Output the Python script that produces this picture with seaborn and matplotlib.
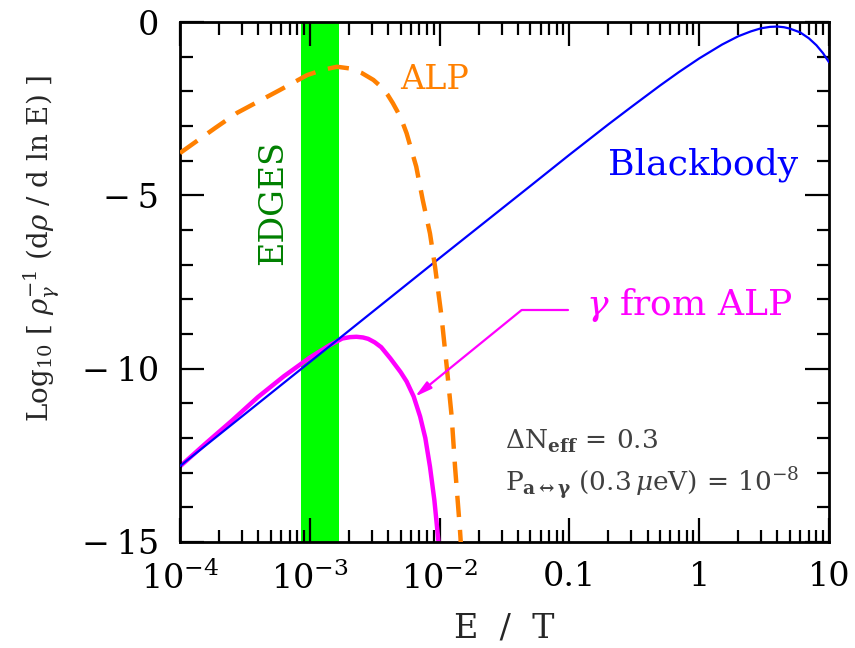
import numpy as np
import matplotlib
matplotlib.use("Agg")
import matplotlib.pyplot as plt
from matplotlib.ticker import MultipleLocator, LogLocator, NullFormatter
import seaborn as sns

# values (log10 E/T, log10 spectrum)
bb_E = [1e-4, 1e-3, 1e-2, 0.05, 0.1, 0.2, 0.3, 0.5, 0.7, 1.0, 1.5, 2.0, 2.5,
        3.0, 3.5, 4.0, 4.5, 5.0, 6.0, 7.0, 8.0, 9.0, 10.0]
bb_y = [-12.81, -9.81, -6.81, -4.73, -3.83, -2.95, -2.45, -1.83, -1.44, -1.05,
        -0.65, -0.41, -0.27, -0.18, -0.14, -0.13, -0.15, -0.19, -0.30, -0.47,
        -0.67, -0.90, -1.16]

alp_logE = [-4.0, -3.73, -3.56, -3.23, -3.02, -2.90, -2.79, -2.69, -2.60, -2.51,
            -2.45, -2.40, -2.36, -2.30, -2.254, -2.18, -2.13, -2.074, -2.035,
            -1.985, -1.945, -1.907, -1.881, -1.843, -1.83]
alp_y = [-3.78, -3.06, -2.62, -1.96, -1.53, -1.38, -1.29, -1.34, -1.47, -1.67,
         -1.87, -2.10, -2.34, -2.75, -3.21, -4.17, -5.13, -6.10, -7.06, -8.50,
         -9.94, -11.38, -12.83, -14.65, -15.4]

gam_logE = [-4.0, -3.8, -3.6, -3.4, -3.2, -3.0, -2.85, -2.75, -2.69, -2.64,
            -2.59, -2.55, -2.50, -2.45, -2.38, -2.30, -2.254, -2.20, -2.15,
            -2.11, -2.074, -2.04, -2.01, -2.0]
gam_y = [-12.82, -12.15, -11.5, -10.82, -10.22, -9.68, -9.33, -9.13, -9.09,
         -9.08, -9.10, -9.14, -9.24, -9.38, -9.70, -10.10, -10.37, -10.80,
         -11.38, -12.0, -12.83, -13.8, -14.94, -15.4]

edges_band = [8.55e-4, 1.68e-3]

x_ticks = [1e-4, 1e-3, 1e-2, 0.1, 1, 10]
x_labels = ["$10^{-4}$", "$10^{-3}$", "$10^{-2}$", "0.1", "1", "10"]
y_ticks = [-15, -10, -5, 0]
y_labels = ["\u2212\u200915", "\u2212\u200910", "\u2212\u20095", "0"]

sns.set_style("ticks")
plt.rcParams['font.family'] = ['DejaVu Serif']
plt.rcParams['mathtext.fontset'] = 'dejavuserif'

fig = plt.figure(figsize=(8.55, 6.48), dpi=100)
ax = fig.add_axes([0.2105, 0.1636, 0.7591, 0.8024])

ax.axvspan(edges_band[0], edges_band[1], color='#00ff00', lw=0, zorder=0)

sns.lineplot(x=10 ** np.array(gam_logE), y=gam_y, ax=ax, color='#ff00ff', lw=3.2, zorder=2)
sns.lineplot(x=bb_E, y=bb_y, ax=ax, color='#0000ff', lw=1.6, zorder=3)
sns.lineplot(x=10 ** np.array(alp_logE), y=alp_y, ax=ax, color='#ff8000', lw=3.2, zorder=4)
ax.lines[-1].set_linestyle((0, (4.8, 2.9)))

ax.set_xscale('log')
ax.set_xlim(1e-4, 10)
ax.set_ylim(-15, 0)

ax.set_xticks(x_ticks)
ax.set_xticklabels(x_labels)
ax.xaxis.set_minor_locator(LogLocator(base=10, subs=np.arange(2, 10), numticks=20))
ax.xaxis.set_minor_formatter(NullFormatter())
ax.set_yticks(y_ticks)
ax.set_yticklabels(y_labels)
ax.yaxis.set_minor_locator(MultipleLocator(1))

ax.tick_params(which='both', direction='in', top=True, right=True, width=1.6,
               colors='black')
ax.tick_params(which='major', length=17, labelsize=24)
ax.tick_params(which='minor', length=9)
ax.tick_params(axis='x', which='major', pad=14)
ax.tick_params(axis='y', which='major', pad=15)
for s in ax.spines.values():
    s.set_linewidth(2)
    s.set_color('black')

ax.set_xlabel("E  /  T", fontsize=24)
ax.xaxis.set_label_coords(0.50, -0.135)
ax.set_ylabel(r"Log$_{10}$ [ $\rho_\gamma^{-1}$ (d$\rho$ / d ln E) ]", fontsize=20)
ax.yaxis.set_label_coords(-0.182, 0.565)

ax.text(4.95e-3, -1.67, "ALP", color='#ff8000', fontsize=24, ha='left', va='center')
ax.text(5.77, -4.12, "Blackbody", color='#0000ff', fontsize=26, ha='right', va='center')
ax.text(5.2e-4, -5.22, "EDGES", color='#008000', fontsize=24, rotation=90,
        ha='center', va='center')
ax.text(5.19, -8.16, r"$\gamma$ from ALP", color='#ff00ff', fontsize=26,
        ha='right', va='center')

ax.plot([0.0428, 0.0977], [-8.31, -8.31], color='#ff00ff', lw=1.6, zorder=5)
ax.annotate("", xy=(6.46e-3, -10.81), xytext=(0.0428, -8.31),
            arrowprops=dict(arrowstyle='-|>,head_length=1.0,head_width=0.25',
                            color='#ff00ff', lw=1.6, shrinkA=0, shrinkB=0),
            zorder=5)

ax.text(0.0319, -12.11, r"$\Delta$N$_{\mathbf{eff}}$$\,=\,$0.3", color='#404040',
        fontsize=19, ha='left', va='center')
ax.text(0.0319, -13.35, r"P$_{\mathbf{a\leftrightarrow\gamma}}$ (0.3$\,\mu$eV)$\,=\,$10$^{-8}$",
        color='#404040', fontsize=19, ha='left', va='center')

fig.savefig("out.png", dpi=100)
